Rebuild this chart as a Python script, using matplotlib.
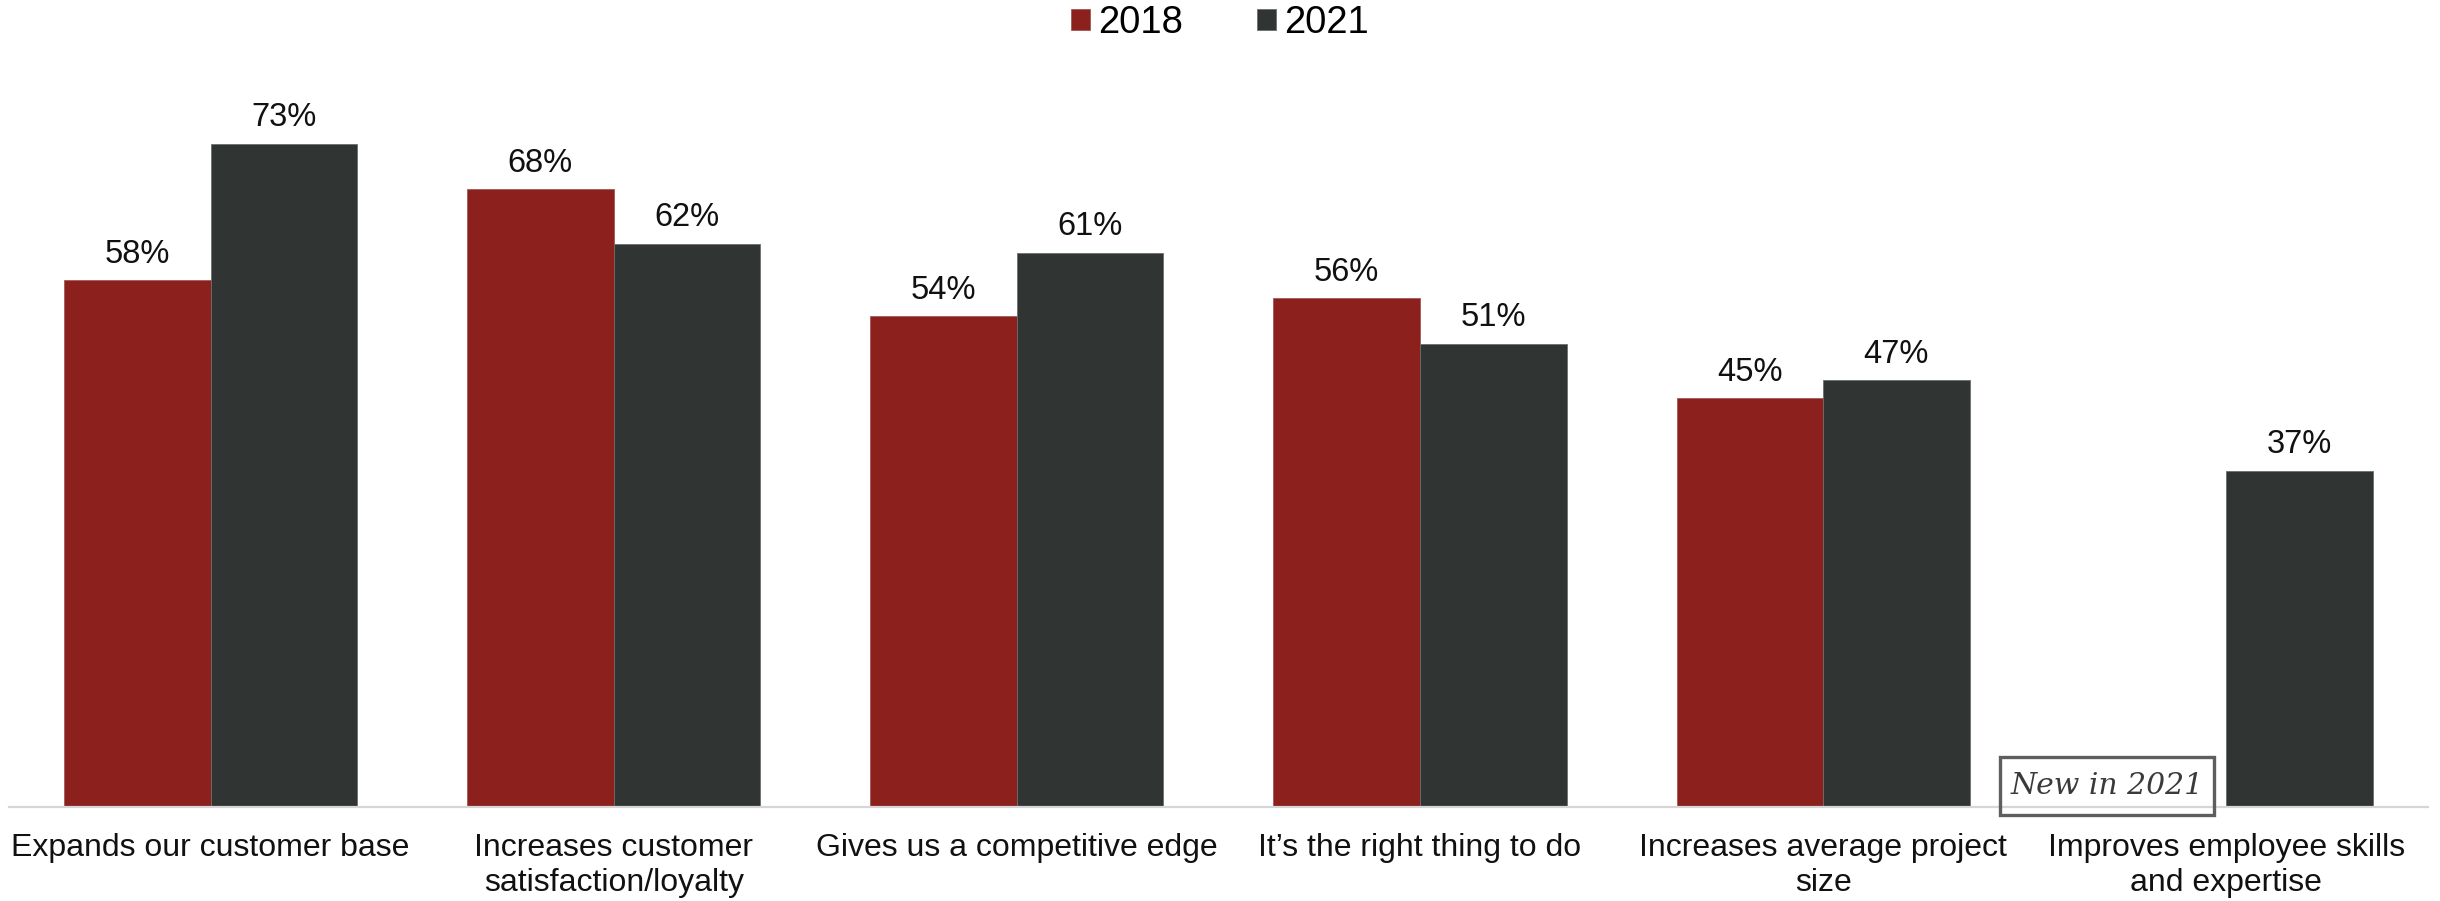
import numpy as np
import matplotlib
matplotlib.use("Agg")
import matplotlib.pyplot as plt
from matplotlib.patches import Rectangle

plt.rcParams['font.family'] = ['Liberation Sans', 'DejaVu Sans']

categories = [
    "Expands our customer base",
    "Increases customer\nsatisfaction/loyalty",
    "Gives us a competitive edge",
    "It\u2019s the right thing to do",
    "Increases average project\nsize",
    "Improves employee skills\nand expertise",
]
values_2018 = [58, 68, 54, 56, 45, np.nan]
values_2021 = [73, 62, 61, 51, 47, 37]
series_names = ["2018", "2021"]

RED = "#8b201c"
DARK = "#303534"

fig = plt.figure(figsize=(24.4, 9.01), dpi=100)
ax = fig.add_axes([0.0037, 0.1043, 0.9913, 0.8017])

x = np.arange(len(categories))
w = 0.3636
b1 = ax.bar(x - w / 2, values_2018, width=w, color=RED, label=series_names[0],
            edgecolor="#a05a58", linewidth=0.6)
b2 = ax.bar(x + w / 2, values_2021, width=w, color=DARK, label=series_names[1],
            edgecolor="#6a6e6d", linewidth=0.6)

for bars, vals in ((b1, values_2018), (b2, values_2021)):
    for rect, v in zip(bars, vals):
        if np.isnan(v):
            continue
        ax.annotate(f"{v:.0f}%", (rect.get_x() + rect.get_width() / 2, v),
                    xytext=(0, 7.5), textcoords="offset points",
                    ha="center", va="bottom", fontsize=23.5, color="#111111")

ax.set_xlim(-0.5, len(categories) - 0.5)
ax.set_ylim(0, 79.5)
ax.set_xticks(x)
ax.set_xticklabels(categories, fontsize=23, color="#111111", linespacing=1.24)
ax.tick_params(axis="x", length=0, pad=18.5)
ax.set_yticks([])
for side in ("left", "right", "top"):
    ax.spines[side].set_visible(False)
ax.spines["bottom"].set_color("#d6d6d6")
ax.spines["bottom"].set_linewidth(1.6)

# "New in 2021" tag where the 2018 bar would be
ax.add_patch(Rectangle((4.44, -0.9), 0.53, 6.4, fill=False, edgecolor="#5e5e5e",
                       linewidth=2.4, clip_on=False, zorder=3))
ax.text(4.705, 2.3, "New in 2021", ha="center", va="center", fontsize=21.5,
        family="DejaVu Serif", style="italic", color="#3a3a3a", zorder=4,
        clip_on=False)

leg = fig.legend(handles=[b1, b2], labels=series_names, loc="center",
                 bbox_to_anchor=(0.5, 1 - 23 / 901), ncol=2, frameon=False,
                 fontsize=27.5, handlelength=0.5, handleheight=0.5,
                 handletextpad=0.21, columnspacing=1.95, borderpad=0.1)

fig.savefig("out.png", dpi=100, facecolor="white")
